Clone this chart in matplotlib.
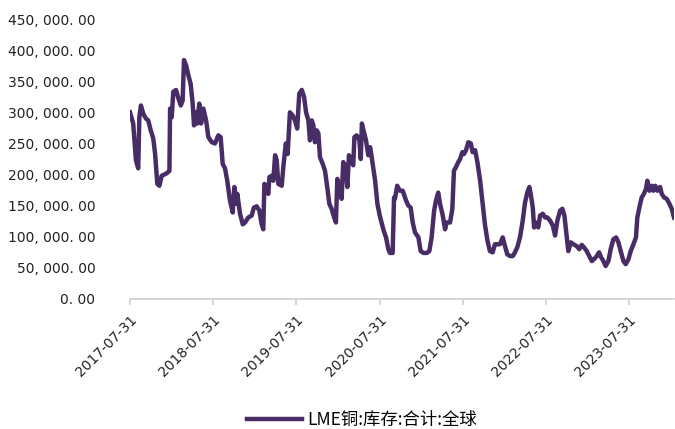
import matplotlib
matplotlib.use("Agg")
import matplotlib.pyplot as plt
import matplotlib.dates as mdates
import matplotlib.ticker as mticker
import pandas as pd

dates = [
    "2017-07-31", "2017-08-14", "2017-08-26", "2017-09-05", "2017-09-10", "2017-09-17",
    "2017-09-27", "2017-10-09", "2017-10-19", "2017-10-30", "2017-11-10", "2017-11-18",
    "2017-11-28", "2017-12-07", "2017-12-17", "2018-01-08", "2018-01-20", "2018-01-23",
    "2018-01-30", "2018-02-06", "2018-02-18", "2018-02-28", "2018-03-11", "2018-03-19",
    "2018-03-25", "2018-04-03", "2018-04-13", "2018-04-23", "2018-05-02", "2018-05-08",
    "2018-05-17", "2018-05-22", "2018-05-31", "2018-06-08", "2018-06-18", "2018-06-30",
    "2018-07-10", "2018-07-25", "2018-08-08", "2018-08-23", "2018-09-02", "2018-09-11",
    "2018-09-21", "2018-10-01", "2018-10-13", "2018-10-25", "2018-11-01", "2018-11-08",
    "2018-11-14", "2018-11-26", "2018-12-08", "2018-12-18", "2019-01-01", "2019-01-16",
    "2019-01-26", "2019-02-07", "2019-02-19", "2019-03-01", "2019-03-08", "2019-03-13",
    "2019-03-23", "2019-03-30", "2019-04-04", "2019-04-14", "2019-04-21", "2019-04-29",
    "2019-05-06", "2019-05-13", "2019-05-28", "2019-06-04", "2019-06-15", "2019-06-23",
    "2019-07-03", "2019-07-15", "2019-07-25", "2019-08-04", "2019-08-13", "2019-08-24",
    "2019-09-03", "2019-09-12", "2019-09-22", "2019-09-29", "2019-10-07", "2019-10-14",
    "2019-10-21", "2019-10-29", "2019-11-05", "2019-11-12", "2019-11-24", "2019-12-04",
    "2019-12-12", "2019-12-23", "2020-01-02", "2020-01-13", "2020-01-21", "2020-01-27",
    "2020-02-05", "2020-02-15", "2020-02-22", "2020-03-04", "2020-03-11", "2020-03-18",
    "2020-03-30", "2020-04-06", "2020-04-11", "2020-04-21", "2020-05-03", "2020-05-09",
    "2020-05-14", "2020-05-23", "2020-06-01", "2020-06-11", "2020-06-19", "2020-06-26",
    "2020-07-11", "2020-07-21", "2020-08-01", "2020-08-16", "2020-08-23", "2020-08-28",
    "2020-09-07", "2020-09-14", "2020-09-26", "2020-10-02", "2020-10-06", "2020-10-16",
    "2020-10-28", "2020-11-09", "2020-11-24", "2020-12-04", "2020-12-14", "2020-12-23",
    "2021-01-02", "2021-01-17", "2021-01-27", "2021-02-08", "2021-02-23", "2021-03-06",
    "2021-03-16", "2021-03-27", "2021-04-04", "2021-04-14", "2021-04-22", "2021-05-04",
    "2021-05-14", "2021-05-21", "2021-06-05", "2021-06-15", "2021-06-22", "2021-07-01",
    "2021-07-11", "2021-07-19", "2021-07-29", "2021-08-05", "2021-08-14", "2021-08-24",
    "2021-09-04", "2021-09-12", "2021-09-23", "2021-10-03", "2021-10-15", "2021-10-26",
    "2021-11-05", "2021-11-16", "2021-11-27", "2021-12-09", "2021-12-19", "2021-12-29",
    "2022-01-10", "2022-01-22", "2022-02-01", "2022-02-11", "2022-02-23", "2022-03-07",
    "2022-03-17", "2022-03-27", "2022-04-08", "2022-04-20", "2022-04-30", "2022-05-10",
    "2022-05-19", "2022-05-25", "2022-06-03", "2022-06-09", "2022-06-17", "2022-06-27",
    "2022-07-05", "2022-07-17", "2022-07-27", "2022-08-06", "2022-08-18", "2022-08-30",
    "2022-09-09", "2022-09-19", "2022-10-01", "2022-10-11", "2022-10-20", "2022-10-27",
    "2022-11-06", "2022-11-17", "2022-11-28", "2022-12-13", "2022-12-24", "2023-01-04",
    "2023-01-14", "2023-01-26", "2023-02-06", "2023-02-17", "2023-02-27", "2023-03-11",
    "2023-03-21", "2023-03-30", "2023-04-09", "2023-04-19", "2023-05-01", "2023-05-11",
    "2023-05-23", "2023-06-04", "2023-06-14", "2023-06-24", "2023-07-06", "2023-07-16",
    "2023-07-28", "2023-08-07", "2023-08-19", "2023-08-30", "2023-09-05", "2023-09-14",
    "2023-09-24", "2023-10-04", "2023-10-13", "2023-10-19", "2023-10-28", "2023-11-07",
    "2023-11-14", "2023-11-23", "2023-12-02", "2023-12-14", "2023-12-21", "2024-01-01",
    "2024-01-12", "2024-01-24", "2024-02-03", "2024-02-13",
]

stock_kt = [
    300, 282, 223, 210, 292, 311,
    298, 290, 287, 271, 258, 234,
    185, 182, 198, 202, 206, 306,
    292, 333, 336, 323, 311, 319,
    384, 376, 360, 346, 315, 279,
    300, 282, 314, 282, 306, 287,
    260, 252, 250, 263, 260, 217,
    210, 190, 158, 139, 180, 153,
    169, 137, 120, 123, 131, 134,
    147, 149, 142, 120, 112, 185,
    180, 169, 196, 198, 190, 231,
    223, 185, 182, 212, 250, 233,
    300, 295, 287, 274, 330, 336,
    325, 300, 287, 255, 287, 279,
    252, 271, 266, 228, 217, 206,
    185, 153, 145, 131, 123, 193,
    180, 161, 220, 212, 180, 231,
    220, 215, 260, 263, 255, 225,
    282, 268, 255, 231, 244, 228,
    190, 153, 133, 112, 104, 99,
    80, 74, 74, 163, 161, 182,
    174, 174, 158, 150, 147, 123,
    107, 99, 77, 74, 74, 77,
    99, 142, 158, 171, 153, 134,
    112, 123, 123, 145, 206, 212,
    220, 225, 236, 233, 239, 252,
    250, 236, 239, 220, 190, 153,
    120, 94, 77, 75, 88, 88,
    88, 99, 85, 72, 69, 69,
    75, 83, 99, 126, 155, 171,
    180, 169, 147, 115, 123, 115,
    134, 137, 131, 131, 126, 118,
    102, 126, 142, 145, 134, 110,
    77, 91, 88, 85, 80, 87,
    83, 77, 69, 61, 64, 69,
    75, 67, 61, 53, 61, 80,
    96, 99, 91, 77, 61, 56,
    64, 77, 88, 99, 131, 147,
    163, 169, 177, 190, 174, 182,
    174, 182, 174, 180, 169, 163,
    161, 153, 145, 131,
]

series_name = "LME铜:库存:合计:全球"
tick_dates = ["2017-07-31", "2018-07-31", "2019-07-31", "2020-07-31",
              "2021-07-31", "2022-07-31", "2023-07-31"]
y_ticks = [0, 50000, 100000, 150000, 200000, 250000, 300000, 350000, 400000, 450000]

x = pd.to_datetime(dates)
y = [v * 1000 for v in stock_kt]
tx = pd.to_datetime(tick_dates)

plt.rcParams['font.family'] = ['DejaVu Sans', 'Noto Sans CJK SC']

fig = plt.figure(figsize=(6.75, 4.29), dpi=100)
ax = fig.add_axes([130 / 675, 1 - 299 / 429, 544 / 675, (299 - 19) / 429])

line_color = '#482C66'
ax.plot(x, y, color=line_color, linewidth=2.4, solid_joinstyle='round', label=series_name)

ax.set_xlim(x[0], x[-1])
ax.set_ylim(0, 450000)
ax.set_yticks(y_ticks)
ax.yaxis.set_major_formatter(mticker.FuncFormatter(
    lambda v, p: "{:,.2f}".format(v).replace(",", ", ").replace(".", ". ")))
ax.set_xticks(tx)
ax.set_xticklabels([d for d in tick_dates], rotation=45, ha='right', rotation_mode='anchor')

for s in ['top', 'right', 'left']:
    ax.spines[s].set_visible(False)
ax.spines['bottom'].set_color('#d0d0d0')
ax.spines['bottom'].set_linewidth(1.2)
ax.tick_params(axis='y', length=0, labelsize=10, colors='#222222', pad=25)
ax.tick_params(axis='x', length=4, width=1.2, color='#d0d0d0', labelsize=10,
               labelcolor='#222222', pad=6)

handles, labels = ax.get_legend_handles_labels()
handles[0].set_linewidth(3.2)
fig.legend(handles, labels, loc='center', bbox_to_anchor=(362 / 675, 1 - 420 / 429),
           frameon=False, handlelength=3.2, handletextpad=0.3,
           prop={'family': ['Noto Sans CJK SC', 'DejaVu Sans'], 'size': 12.5})

fig.savefig("out.png", dpi=100)
